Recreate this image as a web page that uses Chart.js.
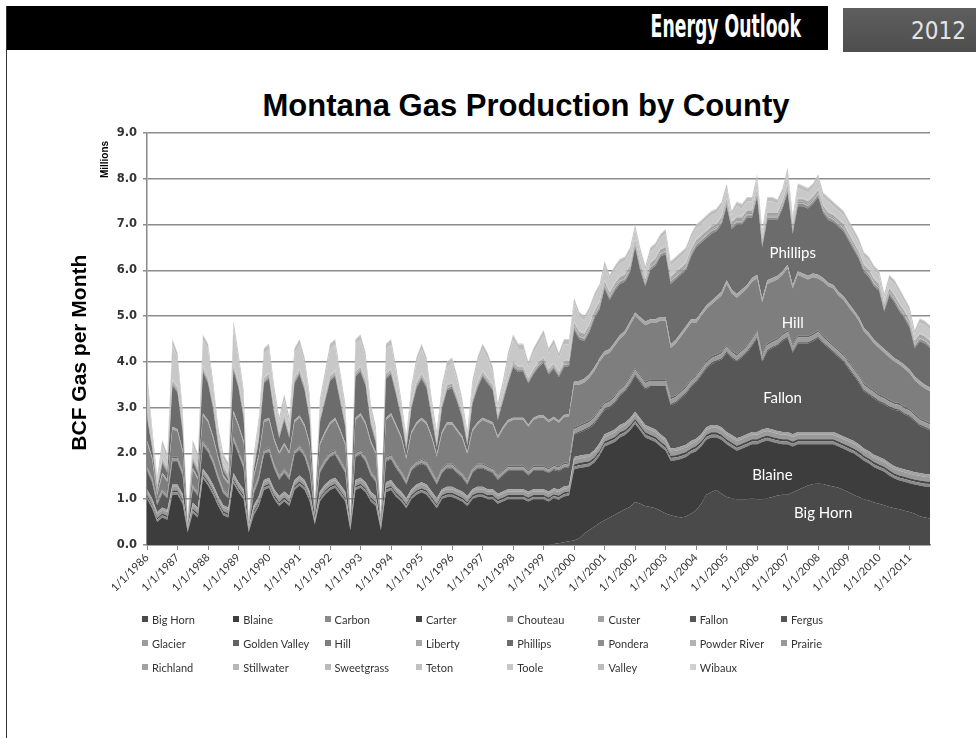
<!DOCTYPE html>
<html>
<head>
<meta charset="utf-8">
<title>Montana Gas Production by County</title>
<script src="https://cdn.jsdelivr.net/npm/chart.js@4.4.1/dist/chart.umd.min.js"></script>
<style>
  html, body { margin: 0; padding: 0; background: #fff; }
  #page { position: relative; width: 976px; height: 738px; overflow: hidden; background: #fff; }
  #frame { position: absolute; left: 6px; top: 6px; width: 1px; height: 732px; background: #333; }
  #topbar { position: absolute; left: 6px; top: 6px; width: 822px; height: 44px; background: #000; }
  #topbar span {
    position: absolute; right: 27px; top: 7px; color: #fff;
    font: bold 24px "Liberation Sans Narrow", "DejaVu Sans Condensed", sans-serif;
    transform: scale(0.8, 1.3); transform-origin: 100% 50%;
  }
  #yearbox {
    position: absolute; left: 843px; top: 8px; width: 133px; height: 44px;
    background: linear-gradient(#5e5e5e, #4e4e4e);
  }
  #yearbox span {
    position: absolute; right: 10px; top: 9px; color: #e4e4e4;
    font: 24px "Liberation Sans Narrow", "DejaVu Sans Condensed", sans-serif;
  }
  #title {
    position: absolute; left: 26px; width: 1000px; top: 88px; line-height: 30px;
    text-align: center; color: #000;
    font: bold 31px "Liberation Sans", Arial, sans-serif;
  }
  #chartBox { position: absolute; left: 0; top: 120px; width: 976px; height: 490px; }
  #legend {
    position: absolute; left: 142px; top: 607px;
    display: grid; grid-template-columns: repeat(8, 91.3px); grid-auto-rows: 24px;
    font: 11px Lato, sans-serif; color: #333;
  }
  #legend .item { display: flex; align-items: center; white-space: nowrap; }
  #legend .swatch { width: 6px; height: 6px; margin-right: 4px; flex: none; }
</style>
</head>
<body>
<div id="page">
  <div id="topbar"><span>Energy Outlook</span></div>
  <div id="yearbox"><span>2012</span></div>
  <div id="frame"></div>
  <div id="title">Montana Gas Production by County</div>
  <div id="chartBox"><canvas id="gasChart"></canvas></div>
  <div id="legend"></div>
</div>
<script>
// sampled every second month, Jan 1986 .. Sep 2011 (BCF per month)
const years = [1986, 1987, 1988, 1989, 1990, 1991, 1992, 1993, 1994, 1995, 1996, 1997, 1998,
               1999, 2000, 2001, 2002, 2003, 2004, 2005, 2006, 2007, 2008, 2009, 2010, 2011];
const sampleMonths = [1, 3, 5, 7, 9, 11];
const lastLabel = '9/1/2011';

const counties = ['Big Horn', 'Blaine', 'Carbon', 'Carter', 'Chouteau', 'Custer', 'Fallon', 'Fergus',
                  'Glacier', 'Golden Valley', 'Hill', 'Liberty', 'Phillips', 'Pondera', 'Powder River', 'Prairie',
                  'Richland', 'Stillwater', 'Sweetgrass', 'Teton', 'Toole', 'Valley', 'Wibaux'];

const bigHorn = [
  0,0,0,0,0,0, 0,0,0,0,0,0, 0,0,0,0,0,0, 0,0,0,0,0,0, 0,0,0,0,0,0,  // 1986-90
  0,0,0,0,0,0, 0,0,0,0,0,0, 0,0,0,0,0,0, 0,0,0,0,0,0, 0,0,0,0,0,0,  // 1991-95
  0,0,0,0,0,0, 0,0,0,0,0,0, 0,0,0,0,0,0,                            // 1996-98
  0, 0, 0.02, 0.04, 0.06, 0.08,          // 1999
  0.1, 0.15, 0.25, 0.33, 0.4, 0.48,      // 2000
  0.54, 0.6, 0.66, 0.72, 0.78, 0.83,     // 2001
  0.94, 0.9, 0.85, 0.83, 0.8, 0.75,      // 2002
  0.69, 0.65, 0.62, 0.6, 0.62, 0.68,     // 2003
  0.76, 0.9, 1.1, 1.16, 1.2, 1.12,       // 2004
  1.05, 1.02, 1.0, 1.0, 1.0, 1.02,       // 2005
  1.0, 1.0, 1.02, 1.05, 1.08, 1.1,       // 2006
  1.1, 1.15, 1.2, 1.25, 1.3, 1.33,       // 2007
  1.34, 1.33, 1.3, 1.28, 1.25, 1.2,      // 2008
  1.15, 1.1, 1.05, 1.0, 0.97, 0.93,      // 2009
  0.9, 0.87, 0.83, 0.8, 0.78, 0.75,      // 2010
  0.72, 0.68, 0.63, 0.6, 0.58            // 2011
];
const blaine = [
  1.0, 0.8, 0.5, 0.6, 0.55, 1.1,
  1.1, 0.9, 0.28, 0.7, 0.6, 1.45,
  1.3, 1.1, 0.85, 0.65, 0.6, 1.35,
  1.15, 1.0, 0.28, 0.65, 0.85, 1.2,
  1.25, 1.0, 0.85, 0.95, 0.85, 1.2,
  1.3, 1.2, 0.95, 0.45, 0.95, 1.1,
  1.2, 1.25, 1.1, 0.95, 0.32, 1.2,
  1.25, 1.15, 0.95, 0.85, 0.32, 1.15,
  1.2, 1.05, 0.95, 0.8, 1.0, 1.1,
  1.15, 1.1, 0.95, 0.8, 1.0, 1.05,
  1.05, 1.0, 0.95, 0.85, 1.0, 1.05,
  1.05, 1.0, 1.0, 0.9, 0.95, 1.0,
  1.0, 1.0, 1.0, 0.95, 1.0, 1.0,
  1.0, 0.95, 1.0, 0.95, 1.0, 1.0,
  1.55, 1.53, 1.45, 1.39, 1.4, 1.47,
  1.61, 1.6, 1.59, 1.63, 1.62, 1.67,
  1.7, 1.6, 1.5, 1.47, 1.45, 1.4,
  1.37, 1.19, 1.23, 1.28, 1.3, 1.32,
  1.29, 1.25, 1.2, 1.19, 1.15, 1.18,
  1.15, 1.11, 1.06, 1.1, 1.15, 1.18,
  1.2, 1.25, 1.26, 1.2, 1.14, 1.1,
  1.1, 1.0, 1.0, 0.95, 0.9, 0.87,
  0.86, 0.87, 0.9, 0.92, 0.9, 0.9,
  0.9, 0.9, 0.88, 0.84, 0.81, 0.77,
  0.75, 0.73, 0.69, 0.65, 0.63, 0.63,
  0.63, 0.64, 0.67, 0.68, 0.69
];
const carbon = [
  .05,.05,.05,.05,.05,.05, .05,.05,.02,.05,.05,.05,
  .05,.05,.05,.05,.05,.05, .05,.05,.02,.05,.05,.05,
  .05,.05,.05,.05,.05,.05, .05,.05,.05,.02,.05,.05,
  .05,.05,.05,.05,.02,.05, .05,.05,.05,.05,.02,.05,
  .05,.05,.05,.05,.05,.05, .05,.05,.05,.05,.05,.05,
  .05,.05,.05,.05,.05,.05, .05,.05,.05,.05,.05,.05,
  .05,.05,.05,.05,.05,.05, .05,.05,.05,.05,.05,.05,
  .06,.06,.06,.06,.06,.06, .06,.06,.06,.06,.06,.06,
  .06,.06,.06,.06,.06,.06, .06,.06,.06,.06,.06,.06,
  .06,.06,.06,.06,.06,.06, .06,.06,.06,.06,.06,.06,
  .06,.06,.06,.06,.06,.06, .06,.06,.06,.06,.06,.06,
  .06,.06,.06,.06,.06,.06, .06,.06,.06,.06,.06,.06,
  .06,.06,.06,.06,.06,.06, .06,.06,.06,.06,.06
];
const carter = [
  .04,.04,.04,.04,.04,.04, .04,.04,.02,.04,.04,.04,
  .04,.04,.04,.04,.04,.04, .04,.04,.02,.04,.04,.04,
  .04,.04,.04,.04,.04,.04, .04,.04,.04,.02,.04,.04,
  .04,.04,.04,.04,.02,.04, .04,.04,.04,.04,.02,.04,
  .04,.04,.04,.04,.04,.04, .04,.04,.04,.04,.04,.04,
  .04,.04,.04,.04,.04,.04, .04,.04,.04,.04,.04,.04,
  .04,.04,.04,.04,.04,.04, .04,.04,.04,.04,.04,.04,
  .05,.05,.05,.05,.05,.05, .05,.05,.05,.05,.05,.05,
  .05,.05,.05,.05,.05,.05, .05,.05,.05,.05,.05,.05,
  .05,.05,.05,.05,.05,.05, .05,.05,.05,.05,.05,.05,
  .05,.05,.05,.05,.05,.05, .05,.05,.05,.05,.05,.05,
  .05,.05,.05,.05,.05,.05, .05,.05,.05,.05,.05,.05,
  .05,.05,.05,.05,.05,.05, .05,.05,.05,.05,.05
];
const chouteau = [
  .08,.08,.08,.08,.08,.08, .08,.08,.04,.08,.08,.08,
  .08,.08,.08,.08,.08,.08, .08,.08,.04,.08,.08,.08,
  .08,.08,.08,.08,.08,.08, .08,.08,.08,.04,.08,.08,
  .08,.08,.08,.08,.04,.08, .08,.08,.08,.08,.04,.08,
  .08,.08,.08,.08,.08,.08, .08,.08,.08,.08,.08,.08,
  .08,.08,.08,.08,.08,.08, .08,.08,.08,.08,.08,.08,
  .08,.08,.08,.08,.08,.08, .08,.08,.08,.08,.08,.08,
  .10,.10,.10,.10,.10,.10, .10,.10,.10,.10,.10,.10,
  .10,.10,.10,.10,.10,.10, .10,.10,.10,.10,.10,.10,
  .10,.10,.10,.10,.10,.10, .10,.10,.10,.10,.10,.10,
  .10,.10,.10,.10,.10,.10, .10,.10,.10,.10,.10,.10,
  .10,.10,.10,.10,.10,.10, .10,.10,.10,.10,.10,.10,
  .10,.10,.10,.10,.10,.10, .10,.10,.10,.10,.10
];
const custer = [
  .05,.05,.05,.05,.05,.05, .05,.05,.02,.05,.05,.05,
  .05,.05,.05,.05,.05,.05, .05,.05,.02,.05,.05,.05,
  .05,.05,.05,.05,.05,.05, .05,.05,.05,.02,.05,.05,
  .05,.05,.05,.05,.02,.05, .05,.05,.05,.05,.02,.05,
  .05,.05,.05,.05,.05,.05, .05,.05,.05,.05,.05,.05,
  .05,.05,.05,.05,.05,.05, .05,.05,.05,.05,.05,.05,
  .05,.05,.05,.05,.05,.05, .05,.05,.05,.05,.05,.05,
  .06,.06,.06,.06,.06,.06, .06,.06,.06,.06,.06,.06,
  .06,.06,.06,.06,.06,.06, .06,.06,.06,.06,.06,.06,
  .06,.06,.06,.06,.06,.06, .06,.06,.06,.06,.06,.06,
  .06,.06,.06,.06,.06,.06, .06,.06,.06,.06,.06,.06,
  .06,.06,.06,.06,.06,.06, .06,.06,.06,.06,.06,.06,
  .06,.06,.06,.06,.06,.06, .06,.06,.06,.06,.06
];
const fallon = [
  0.4, 0.35, 0.15, 0.3, 0.25, 0.5,
  0.5, 0.4, 0.02, 0.3, 0.25, 0.5,
  0.5, 0.45, 0.35, 0.25, 0.2, 0.7,
  0.6, 0.45, 0.02, 0.25, 0.35, 0.55,
  0.55, 0.45, 0.35, 0.4, 0.35, 0.55,
  0.55, 0.5, 0.4, 0.08, 0.4, 0.45,
  0.5, 0.5, 0.45, 0.4, 0.04, 0.5,
  0.5, 0.45, 0.35, 0.3, 0.04, 0.45,
  0.45, 0.4, 0.35, 0.3, 0.4, 0.4,
  0.4, 0.4, 0.35, 0.3, 0.35, 0.4,
  0.4, 0.35, 0.3, 0.25, 0.35, 0.4,
  0.4, 0.4, 0.35, 0.3, 0.35, 0.4,
  0.4, 0.4, 0.4, 0.35, 0.4, 0.4,
  0.4, 0.4, 0.4, 0.4, 0.4, 0.4,
  0.48, 0.5, 0.53, 0.56, 0.58, 0.58,
  0.53, 0.53, 0.58, 0.63, 0.68, 0.73,
  0.79, 0.78, 0.78, 0.88, 0.93, 1.03,
  1.12, 0.94, 0.98, 1.05, 1.11, 1.18,
  1.23, 1.28, 1.28, 1.33, 1.38, 1.48,
  1.73, 1.68, 1.67, 1.73, 1.78, 1.88,
  2.05, 1.48, 1.68, 1.78, 1.86, 1.98,
  2.05, 1.78, 1.93, 1.93, 1.93, 1.98,
  2.05, 1.93, 1.83, 1.73, 1.68, 1.63,
  1.53, 1.43, 1.35, 1.25, 1.23, 1.23,
  1.2, 1.2, 1.21, 1.23, 1.25, 1.2,
  1.18, 1.11, 1.03, 1.0, 0.96
];
const fergus = [
  .02,.02,.02,.02,.02,.02, .02,.02,.01,.02,.02,.02,
  .02,.02,.02,.02,.02,.02, .02,.02,.01,.02,.02,.02,
  .02,.02,.02,.02,.02,.02, .02,.02,.02,.01,.02,.02,
  .02,.02,.02,.02,.01,.02, .02,.02,.02,.02,.01,.02,
  .02,.02,.02,.02,.02,.02, .02,.02,.02,.02,.02,.02,
  .02,.02,.02,.02,.02,.02, .02,.02,.02,.02,.02,.02,
  .02,.02,.02,.02,.02,.02, .02,.02,.02,.02,.02,.02,
  .03,.03,.03,.03,.03,.03, .03,.03,.03,.03,.03,.03,
  .03,.03,.03,.03,.03,.03, .03,.03,.03,.03,.03,.03,
  .03,.03,.03,.03,.03,.03, .03,.03,.03,.03,.03,.03,
  .03,.03,.03,.03,.03,.03, .03,.03,.03,.03,.03,.03,
  .03,.03,.03,.03,.03,.03, .03,.03,.03,.03,.03,.03,
  .03,.03,.03,.03,.03,.03, .03,.03,.03,.03,.03
];
const glacier = [
  .06,.06,.06,.06,.06,.06, .06,.06,.03,.06,.06,.06,
  .06,.06,.06,.06,.06,.06, .06,.06,.03,.06,.06,.06,
  .06,.06,.06,.06,.06,.06, .06,.06,.06,.03,.06,.06,
  .06,.06,.06,.06,.03,.06, .06,.06,.06,.06,.03,.06,
  .06,.06,.06,.06,.06,.06, .06,.06,.06,.06,.06,.06,
  .06,.06,.06,.06,.06,.06, .06,.06,.06,.06,.06,.06,
  .06,.06,.06,.06,.06,.06, .06,.06,.06,.06,.06,.06,
  .10,.10,.10,.10,.10,.10, .10,.10,.10,.10,.10,.10,
  .10,.10,.10,.10,.10,.10, .10,.10,.10,.10,.10,.10,
  .10,.10,.10,.10,.10,.10, .10,.10,.10,.10,.10,.10,
  .10,.10,.10,.10,.10,.10, .10,.10,.10,.10,.10,.10,
  .10,.10,.10,.10,.10,.10, .10,.10,.10,.10,.10,.10,
  .10,.10,.10,.10,.10,.10, .10,.10,.10,.10,.10
];
const goldenValley = [
  .03,.03,.03,.03,.03,.03, .03,.03,.01,.03,.03,.03,
  .03,.03,.03,.03,.03,.03, .03,.03,.01,.03,.03,.03,
  .03,.03,.03,.03,.03,.03, .03,.03,.03,.01,.03,.03,
  .03,.03,.03,.03,.01,.03, .03,.03,.03,.03,.01,.03,
  .03,.03,.03,.03,.03,.03, .03,.03,.03,.03,.03,.03,
  .03,.03,.03,.03,.03,.03, .03,.03,.03,.03,.03,.03,
  .03,.03,.03,.03,.03,.03, .03,.03,.03,.03,.03,.03,
  .04,.04,.04,.04,.04,.04, .04,.04,.04,.04,.04,.04,
  .04,.04,.04,.04,.04,.04, .04,.04,.04,.04,.04,.04,
  .04,.04,.04,.04,.04,.04, .04,.04,.04,.04,.04,.04,
  .04,.04,.04,.04,.04,.04, .04,.04,.04,.04,.04,.04,
  .04,.04,.04,.04,.04,.04, .04,.04,.04,.04,.04,.04,
  .04,.04,.04,.04,.04,.04, .04,.04,.04,.04,.04
];
const hill = [
  0.5, 0.4, 0.1, 0.3, 0.25, 0.6,
  0.55, 0.4, 0.01, 0.3, 0.25, 0.55,
  0.55, 0.45, 0.35, 0.25, 0.2, 0.5,
  0.5, 0.45, 0.01, 0.25, 0.4, 0.6,
  0.6, 0.5, 0.45, 0.5, 0.45, 0.6,
  0.6, 0.55, 0.5, 0.05, 0.5, 0.55,
  0.6, 0.65, 0.6, 0.5, 0.03, 0.7,
  0.75, 0.7, 0.6, 0.5, 0.03, 0.8,
  0.85, 0.8, 0.7, 0.45, 0.7, 0.8,
  0.85, 0.8, 0.7, 0.5, 0.75, 0.85,
  0.85, 0.8, 0.75, 0.55, 0.8, 0.85,
  0.95, 0.95, 0.95, 0.8, 0.9, 0.95,
  1.0, 1.0, 1.0, 0.95, 1.0, 1.05,
  1.05, 1.0, 1.0, 0.95, 1.0, 1.0,
  0.93, 0.88, 0.88, 0.93, 0.98, 1.03,
  1.03, 1.03, 1.08, 1.08, 1.08, 1.13,
  1.13, 1.18, 1.23, 1.23, 1.23, 1.28,
  1.28, 1.08, 1.13, 1.18, 1.23, 1.23,
  1.13, 1.13, 1.13, 1.13, 1.18, 1.23,
  1.33, 1.25, 1.23, 1.23, 1.23, 1.23,
  1.13, 1.13, 1.3, 1.28, 1.28, 1.28,
  1.35, 1.23, 1.33, 1.28, 1.23, 1.23,
  1.13, 1.18, 1.18, 1.23, 1.18, 1.18,
  1.18, 1.18, 1.18, 1.13, 1.1, 1.03,
  1.01, 0.96, 0.93, 0.88, 0.84, 0.83,
  0.78, 0.73, 0.73, 0.7, 0.69
];
const liberty = [
  .05,.05,.05,.05,.05,.05, .05,.05,.02,.05,.05,.05,
  .05,.05,.05,.05,.05,.05, .05,.05,.02,.05,.05,.05,
  .05,.05,.05,.05,.05,.05, .05,.05,.05,.02,.05,.05,
  .05,.05,.05,.05,.02,.05, .05,.05,.05,.05,.02,.05,
  .05,.05,.05,.05,.05,.05, .05,.05,.05,.05,.05,.05,
  .05,.05,.05,.05,.05,.05, .05,.05,.05,.05,.05,.05,
  .05,.05,.05,.05,.05,.05, .05,.05,.05,.05,.05,.05,
  .08,.08,.08,.08,.08,.08, .08,.08,.08,.08,.08,.08,
  .08,.08,.08,.08,.08,.08, .08,.08,.08,.08,.08,.08,
  .08,.08,.08,.08,.08,.08, .08,.08,.08,.08,.08,.08,
  .08,.08,.08,.08,.08,.08, .08,.08,.08,.08,.08,.08,
  .08,.08,.08,.08,.08,.08, .08,.08,.08,.08,.08,.08,
  .08,.08,.08,.08,.08,.08, .08,.08,.08,.08,.08
];
const phillips = [
  0.5, 0.2, 0.05, 0.2, 0.15, 0.9,
  0.8, 0.4, 0, 0.15, 0.1, 0.9,
  0.8, 0.6, 0.25, 0.1, 0.05, 0.9,
  0.8, 0.5, 0, 0.1, 0.3, 0.8,
  0.85, 0.55, 0.3, 0.5, 0.3, 0.8,
  0.9, 0.75, 0.5, 0.02, 0.45, 0.65,
  0.9, 0.9, 0.6, 0.35, 0.01, 0.9,
  0.9, 0.8, 0.35, 0.2, 0.01, 0.85,
  0.85, 0.65, 0.4, 0.15, 0.5, 0.75,
  0.85, 0.75, 0.4, 0.15, 0.5, 0.7,
  0.75, 0.6, 0.4, 0.15, 0.55, 0.75,
  0.9, 0.8, 0.7, 0.35, 0.55, 0.8,
  1.1, 1.0, 1.0, 0.9, 0.95, 1.05,
  1.15, 1.0, 1.05, 0.95, 1.05, 1.05,
  1.12, 0.92, 0.82, 0.92, 1.07, 1.07,
  1.37, 1.07, 1.12, 1.12, 1.07, 1.07,
  1.42, 1.02, 0.77, 1.07, 1.17, 1.32,
  1.37, 1.32, 1.32, 1.27, 1.22, 1.37,
  1.57, 1.52, 1.47, 1.47, 1.42, 1.47,
  1.62, 1.32, 1.52, 1.42, 1.47, 1.32,
  1.7, 1.12, 1.32, 1.27, 1.22, 1.37,
  1.58, 1.12, 1.42, 1.47, 1.47, 1.52,
  1.7, 1.42, 1.37, 1.37, 1.42, 1.42,
  1.37, 1.32, 1.27, 1.23, 1.22, 1.17,
  1.17, 0.82, 1.27, 1.22, 1.08, 1.02,
  0.92, 0.62, 0.87, 0.9, 0.86
];
const pondera = [
  .04,.04,.04,.04,.04,.04, .04,.04,.02,.04,.04,.04,
  .04,.04,.04,.04,.04,.04, .04,.04,.02,.04,.04,.04,
  .04,.04,.04,.04,.04,.04, .04,.04,.04,.02,.04,.04,
  .04,.04,.04,.04,.02,.04, .04,.04,.04,.04,.02,.04,
  .04,.04,.04,.04,.04,.04, .04,.04,.04,.04,.04,.04,
  .04,.04,.04,.04,.04,.04, .04,.04,.04,.04,.04,.04,
  .04,.04,.04,.04,.04,.04, .04,.04,.04,.04,.04,.04,
  .05,.05,.05,.05,.05,.05, .05,.05,.05,.05,.05,.05,
  .05,.05,.05,.05,.05,.05, .05,.05,.05,.05,.05,.05,
  .05,.05,.05,.05,.05,.05, .05,.05,.05,.05,.05,.05,
  .05,.05,.05,.05,.05,.05, .05,.05,.05,.05,.05,.05,
  .05,.05,.05,.05,.05,.05, .05,.05,.05,.05,.05,.05,
  .05,.05,.05,.05,.05,.05, .05,.05,.05,.05,.05
];
const powderRiver = [
  .01,.01,.01,.01,.01,.01, .01,.01,.01,.01,.01,.01,
  .01,.01,.01,.01,.01,.01, .01,.01,.01,.01,.01,.01,
  .01,.01,.01,.01,.01,.01, .01,.01,.01,.01,.01,.01,
  .01,.01,.01,.01,.01,.01, .01,.01,.01,.01,.01,.01,
  .01,.01,.01,.01,.01,.01, .01,.01,.01,.01,.01,.01,
  .01,.01,.01,.01,.01,.01, .01,.01,.01,.01,.01,.01,
  .01,.01,.01,.01,.01,.01, .01,.01,.01,.01,.01,.01,
  .02,.02,.02,.02,.02,.02, .02,.02,.02,.02,.02,.02,
  .02,.02,.02,.02,.02,.02, .02,.02,.02,.02,.02,.02,
  .02,.02,.02,.02,.02,.02, .02,.02,.02,.02,.02,.02,
  .02,.02,.02,.02,.02,.02, .02,.02,.02,.02,.02,.02,
  .02,.02,.02,.02,.02,.02, .02,.02,.02,.02,.02,.02,
  .02,.02,.02,.02,.02,.02, .02,.02,.02,.02,.02
];
const prairie = [
  .02,.02,.02,.02,.02,.02, .02,.02,.01,.02,.02,.02,
  .02,.02,.02,.02,.02,.02, .02,.02,.01,.02,.02,.02,
  .02,.02,.02,.02,.02,.02, .02,.02,.02,.01,.02,.02,
  .02,.02,.02,.02,.01,.02, .02,.02,.02,.02,.01,.02,
  .02,.02,.02,.02,.02,.02, .02,.02,.02,.02,.02,.02,
  .02,.02,.02,.02,.02,.02, .02,.02,.02,.02,.02,.02,
  .02,.02,.02,.02,.02,.02, .02,.02,.02,.02,.02,.02,
  .03,.03,.03,.03,.03,.03, .03,.03,.03,.03,.03,.03,
  .03,.03,.03,.03,.03,.03, .03,.03,.03,.03,.03,.03,
  .03,.03,.03,.03,.03,.03, .03,.03,.03,.03,.03,.03,
  .03,.03,.03,.03,.03,.03, .03,.03,.03,.03,.03,.03,
  .03,.03,.03,.03,.03,.03, .03,.03,.03,.03,.03,.03,
  .03,.03,.03,.03,.03,.03, .03,.03,.03,.03,.03
];
const richland = [
  .03,.03,.03,.03,.03,.03, .03,.03,.01,.03,.03,.03,
  .03,.03,.03,.03,.03,.03, .03,.03,.01,.03,.03,.03,
  .03,.03,.03,.03,.03,.03, .03,.03,.03,.01,.03,.03,
  .03,.03,.03,.03,.01,.03, .03,.03,.03,.03,.01,.03,
  .03,.03,.03,.03,.03,.03, .03,.03,.03,.03,.03,.03,
  .03,.03,.03,.03,.03,.03, .03,.03,.03,.03,.03,.03,
  .03,.03,.03,.03,.03,.03, .03,.03,.03,.03,.03,.03,
  .05,.05,.05,.05,.05,.05, .05,.05,.05,.05,.05,.05,
  .05,.05,.05,.05,.05,.05, .05,.05,.05,.05,.05,.05,
  .05,.05,.05,.05,.05,.05, .05,.05,.05,.05,.05,.05,
  .05,.05,.05,.05,.05,.05, .05,.05,.05,.05,.05,.05,
  .05,.05,.05,.05,.05,.05, .05,.05,.05,.05,.05,.05,
  .05,.05,.05,.05,.05,.05, .05,.05,.05,.05,.05
];
const stillwater = [
  .01,.01,.01,.01,.01,.01, .01,.01,0,.01,.01,.01,
  .01,.01,.01,.01,.01,.01, .01,.01,0,.01,.01,.01,
  .01,.01,.01,.01,.01,.01, .01,.01,.01,0,.01,.01,
  .01,.01,.01,.01,0,.01, .01,.01,.01,.01,0,.01,
  .01,.01,.01,.01,.01,.01, .01,.01,.01,.01,.01,.01,
  .01,.01,.01,.01,.01,.01, .01,.01,.01,.01,.01,.01,
  .01,.01,.01,.01,.01,.01, .01,.01,.01,.01,.01,.01,
  .01,.01,.01,.01,.01,.01, .01,.01,.01,.01,.01,.01,
  .01,.01,.01,.01,.01,.01, .01,.01,.01,.01,.01,.01,
  .01,.01,.01,.01,.01,.01, .01,.01,.01,.01,.01,.01,
  .01,.01,.01,.01,.01,.01, .01,.01,.01,.01,.01,.01,
  .01,.01,.01,.01,.01,.01, .01,.01,.01,.01,.01,.01,
  .01,.01,.01,.01,.01,.01, .01,.01,.01,.01,.01
];
const sweetgrass = [
  .01,.01,.01,.01,.01,.01, .01,.01,0,.01,.01,.01,
  .01,.01,.01,.01,.01,.01, .01,.01,0,.01,.01,.01,
  .01,.01,.01,.01,.01,.01, .01,.01,.01,0,.01,.01,
  .01,.01,.01,.01,0,.01, .01,.01,.01,.01,0,.01,
  .01,.01,.01,.01,.01,.01, .01,.01,.01,.01,.01,.01,
  .01,.01,.01,.01,.01,.01, .01,.01,.01,.01,.01,.01,
  .01,.01,.01,.01,.01,.01, .01,.01,.01,.01,.01,.01,
  .01,.01,.01,.01,.01,.01, .01,.01,.01,.01,.01,.01,
  .01,.01,.01,.01,.01,.01, .01,.01,.01,.01,.01,.01,
  .01,.01,.01,.01,.01,.01, .01,.01,.01,.01,.01,.01,
  .01,.01,.01,.01,.01,.01, .01,.01,.01,.01,.01,.01,
  .01,.01,.01,.01,.01,.01, .01,.01,.01,.01,.01,.01,
  .01,.01,.01,.01,.01,.01, .01,.01,.01,.01,.01
];
const teton = [
  .02,.02,.02,.02,.02,.02, .02,.02,.01,.02,.02,.02,
  .02,.02,.02,.02,.02,.02, .02,.02,.01,.02,.02,.02,
  .02,.02,.02,.02,.02,.02, .02,.02,.02,.01,.02,.02,
  .02,.02,.02,.02,.01,.02, .02,.02,.02,.02,.01,.02,
  .02,.02,.02,.02,.02,.02, .02,.02,.02,.02,.02,.02,
  .02,.02,.02,.02,.02,.02, .02,.02,.02,.02,.02,.02,
  .02,.02,.02,.02,.02,.02, .02,.02,.02,.02,.02,.02,
  .02,.02,.02,.02,.02,.02, .02,.02,.02,.02,.02,.02,
  .02,.02,.02,.02,.02,.02, .02,.02,.02,.02,.02,.02,
  .02,.02,.02,.02,.02,.02, .02,.02,.02,.02,.02,.02,
  .02,.02,.02,.02,.02,.02, .02,.02,.02,.02,.02,.02,
  .02,.02,.02,.02,.02,.02, .02,.02,.02,.02,.02,.02,
  .02,.02,.02,.02,.02,.02, .02,.02,.02,.02,.02
];
const toole = [
  0.76, 0.21, 0.06, 0.26, 0.16, 0.76,
  0.61, 0.26, 0, 0.21, 0.16, 0.56,
  0.61, 0.36, 0.16, 0.11, 0.11, 0.81,
  0.51, 0.36, 0, 0.11, 0.26, 0.51,
  0.51, 0.36, 0.21, 0.31, 0.21, 0.51,
  0.51, 0.46, 0.31, 0.01, 0.26, 0.41,
  0.56, 0.56, 0.41, 0.26, 0.01, 0.56,
  0.56, 0.46, 0.21, 0.11, 0.01, 0.51,
  0.51, 0.36, 0.16, 0.06, 0.26, 0.41,
  0.51, 0.41, 0.16, 0.11, 0.26, 0.36,
  0.41, 0.31, 0.16, 0.06, 0.26, 0.41,
  0.46, 0.41, 0.26, 0.11, 0.21, 0.41,
  0.46, 0.36, 0.36, 0.21, 0.31, 0.36,
  0.46, 0.31, 0.39, 0.27, 0.35, 0.33,
  0.41, 0.31, 0.26, 0.26, 0.26, 0.26,
  0.31, 0.26, 0.26, 0.26, 0.26, 0.26,
  0.21, 0.21, 0.16, 0.21, 0.21, 0.21,
  0.26, 0.21, 0.21, 0.21, 0.21, 0.21,
  0.21, 0.21, 0.21, 0.21, 0.21, 0.21,
  0.21, 0.11, 0.21, 0.16, 0.16, 0.16,
  0.21, 0.11, 0.21, 0.21, 0.16, 0.16,
  0.26, 0.11, 0.21, 0.16, 0.16, 0.16,
  0.21, 0.16, 0.21, 0.16, 0.16, 0.16,
  0.16, 0.16, 0.16, 0.14, 0.16, 0.16,
  0.16, 0.11, 0.16, 0.21, 0.21, 0.16,
  0.16, 0.11, 0.21, 0.21, 0.21
];
const valley = [
  .10,.10,.10,.10,.10,.10, .10,.10,.04,.10,.10,.10,
  .10,.10,.10,.10,.10,.10, .10,.10,.04,.10,.10,.10,
  .10,.10,.10,.10,.10,.10, .10,.10,.10,.04,.10,.10,
  .10,.10,.10,.10,.04,.10, .10,.10,.10,.10,.04,.10,
  .10,.10,.10,.10,.10,.10, .10,.10,.10,.10,.10,.10,
  .10,.10,.10,.10,.10,.10, .10,.10,.10,.10,.10,.10,
  .10,.10,.10,.10,.10,.10, .10,.10,.10,.10,.10,.10,
  .08,.08,.08,.08,.08,.08, .08,.08,.08,.08,.08,.08,
  .08,.08,.08,.08,.08,.08, .08,.08,.08,.08,.08,.08,
  .08,.08,.08,.08,.08,.08, .08,.08,.08,.08,.08,.08,
  .08,.08,.08,.08,.08,.08, .08,.08,.08,.08,.08,.08,
  .08,.08,.08,.08,.08,.08, .08,.08,.08,.08,.08,.08,
  .08,.08,.08,.08,.08,.08, .08,.08,.08,.08,.08
];
const wibaux = [
  .02,.02,.02,.02,.02,.02, .02,.02,.01,.02,.02,.02,
  .02,.02,.02,.02,.02,.02, .02,.02,.01,.02,.02,.02,
  .02,.02,.02,.02,.02,.02, .02,.02,.02,.01,.02,.02,
  .02,.02,.02,.02,.01,.02, .02,.02,.02,.02,.01,.02,
  .02,.02,.02,.02,.02,.02, .02,.02,.02,.02,.02,.02,
  .02,.02,.02,.02,.02,.02, .02,.02,.02,.02,.02,.02,
  .02,.02,.02,.02,.02,.02, .02,.02,.02,.02,.02,.02,
  .02,.02,.02,.02,.02,.02, .02,.02,.02,.02,.02,.02,
  .02,.02,.02,.02,.02,.02, .02,.02,.02,.02,.02,.02,
  .02,.02,.02,.02,.02,.02, .02,.02,.02,.02,.02,.02,
  .02,.02,.02,.02,.02,.02, .02,.02,.02,.02,.02,.02,
  .02,.02,.02,.02,.02,.02, .02,.02,.02,.02,.02,.02,
  .02,.02,.02,.02,.02,.02, .02,.02,.02,.02,.02
];

const countySeries = [bigHorn, blaine, carbon, carter, chouteau, custer, fallon, fergus,
                      glacier, goldenValley, hill, liberty, phillips, pondera, powderRiver, prairie,
                      richland, stillwater, sweetgrass, teton, toole, valley, wibaux];

const countyColors = ['#4a4a4a', '#3d3d3d', '#8a8a8a', '#474747', '#9a9a9a', '#a2a2a2', '#575757', '#555555',
                      '#9c9c9c', '#646464', '#7e7e7e', '#a8a8a8', '#6c6c6c', '#8e8e8e', '#b3b3b3', '#999999',
                      '#a2a2a2', '#b6b6b6', '#bbbbbb', '#c0c0c0', '#c8c8c8', '#bdbdbd', '#d0d0d0'];

// names written inside the big areas
const areaLabels = [
  { text: 'Phillips', at: '3/1/2007', value: 6.38 },
  { text: 'Hill', at: '3/1/2007', value: 4.84 },
  { text: 'Fallon', at: '11/1/2006', value: 3.2 },
  { text: 'Blaine', at: '7/1/2006', value: 1.52 },
  { text: 'Big Horn', at: '3/1/2008', value: 0.69 }
];

const labels = [];
years.forEach(function (yr) {
  sampleMonths.forEach(function (m) {
    if (labels.length && labels[labels.length - 1] === lastLabel) return;
    labels.push(m + '/1/' + yr);
  });
});

const slideText = {
  id: 'slideText',
  afterDatasetsDraw(chart) {
    const ctx = chart.ctx;
    const xs = chart.scales.x, ys = chart.scales.y;
    ctx.save();
    ctx.fillStyle = '#ffffff';
    ctx.font = '15px Lato';
    ctx.textAlign = 'center';
    ctx.textBaseline = 'middle';
    areaLabels.forEach(function (l) {
      ctx.fillText(l.text, xs.getPixelForValue(labels.indexOf(l.at)), ys.getPixelForValue(l.value));
    });
    ctx.restore();
  },
  afterDraw(chart) {
    const ctx = chart.ctx;
    const ys = chart.scales.y;
    const left = chart.chartArea.left;
    ctx.save();
    ctx.fillStyle = '#000';
    ctx.textAlign = 'center';
    ctx.textBaseline = 'middle';
    ctx.translate(left - 67, ys.getPixelForValue(4.2));
    ctx.rotate(-Math.PI / 2);
    ctx.font = 'bold 21px "Liberation Sans", Arial';
    ctx.fillText('BCF Gas per Month', 0, 0);
    ctx.restore();

    ctx.save();
    ctx.fillStyle = '#000';
    ctx.textAlign = 'center';
    ctx.textBaseline = 'middle';
    ctx.translate(left - 42, ys.getPixelForValue(8.42));
    ctx.rotate(-Math.PI / 2);
    ctx.font = 'bold 10px "Liberation Sans", Arial';
    ctx.fillText('Millions', 0, 0);
    ctx.restore();
  }
};

const gasChart = new Chart(document.getElementById('gasChart'), {
  type: 'line',
  data: {
    labels: labels,
    datasets: counties.map(function (name, i) {
      return {
        label: name,
        data: countySeries[i],
        backgroundColor: countyColors[i],
        borderColor: countyColors[i],
        borderWidth: 0,
        pointRadius: 0,
        tension: 0,
        fill: i === 0 ? 'origin' : '-1'
      };
    })
  },
  options: {
    responsive: true,
    maintainAspectRatio: false,
    animation: false,
    layout: { padding: { left: 0, right: 46, top: 10, bottom: 0 } },
    plugins: {
      legend: { display: false },
      tooltip: { enabled: false },
      title: { display: false }
    },
    scales: {
      x: {
        offset: false,
        grid: { drawOnChartArea: false, drawTicks: true, tickLength: 5, color: '#888' },
        border: { color: '#888', width: 1.5 },
        ticks: {
          autoSkip: false,
          minRotation: 45,
          maxRotation: 45,
          padding: 1,
          color: '#333',
          font: { family: 'Lato', size: 11 },
          callback: function (value) {
            const lab = this.getLabelForValue(value);
            return lab.indexOf('1/1/') === 0 ? lab : null;
          }
        },
        afterFit: function (scale) { scale.height = 65; }
      },
      y: {
        stacked: true,
        min: 0,
        max: 9,
        grid: { color: '#8c8c8c', lineWidth: 1.5, tickLength: 4 },
        border: { color: '#888', width: 1.5 },
        ticks: {
          stepSize: 1,
          padding: 6,
          color: '#333',
          font: { family: 'DejaVu Sans', size: 11.5, weight: 'bold' },
          callback: function (v) { return v.toFixed(1); }
        },
        afterFit: function (scale) { scale.width = 147; }
      }
    }
  },
  plugins: [slideText]
});

// legend in the same 8-column grid as the slide
const legendBox = document.getElementById('legend');
gasChart.data.datasets.forEach(function (ds) {
  const item = document.createElement('div');
  item.className = 'item';
  const sw = document.createElement('span');
  sw.className = 'swatch';
  sw.style.background = ds.backgroundColor;
  item.appendChild(sw);
  item.appendChild(document.createTextNode(ds.label));
  legendBox.appendChild(item);
});
</script>
</body>
</html>
